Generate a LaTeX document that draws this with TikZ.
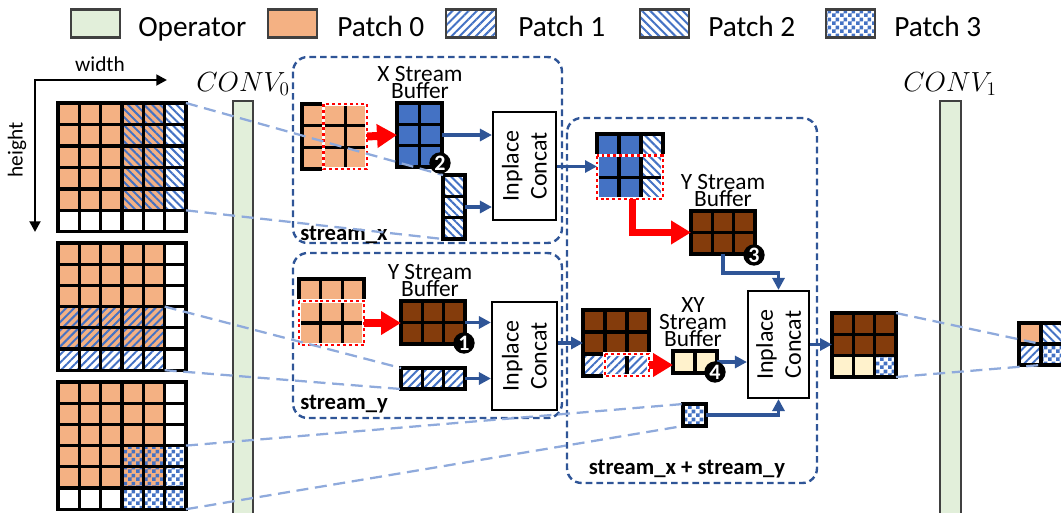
\documentclass[tikz,border=0pt]{standalone}
\usepackage{fontspec}
\setmainfont{Carlito}
\usetikzlibrary{arrows.meta,patterns,patterns.meta}
\definecolor{opg}{HTML}{E2EFDA}
\definecolor{org}{HTML}{F4B183}
\definecolor{hb}{HTML}{4472C4}
\definecolor{blu}{HTML}{4472C4}
\definecolor{brn}{HTML}{843C0C}
\definecolor{crm}{HTML}{FFF2CC}
\definecolor{dbox}{HTML}{2F5597}
\definecolor{lbl}{HTML}{8FAADC}
\definecolor{arb}{HTML}{2F5597}
\definecolor{lgb}{HTML}{404040}
\pgfdeclarepatternformonly{mychk}{\pgfqpoint{0pt}{0pt}}{\pgfqpoint{6pt}{6pt}}{\pgfqpoint{6pt}{6pt}}{%
  \pgfpathrectangle{\pgfqpoint{0pt}{0pt}}{\pgfqpoint{3pt}{3pt}}%
  \pgfpathrectangle{\pgfqpoint{3pt}{3pt}}{\pgfqpoint{3pt}{3pt}}%
  \pgfusepath{fill}}
\newcommand\cellgrid[2]{%
  \foreach \i in {0,...,#1} {\draw[gl] (\i,0) -- (\i,#2);}
  \foreach \j in {0,...,#2} {\draw[gl] (0,\j) -- (#1,\j);}}
\tikzset{
  gl/.style={draw=black,line width=2.5pt,line cap=rect},
  pA/.style={pattern={Lines[angle=45,distance=4.3pt,line width=1.5pt]},pattern color=hb},
  pB/.style={pattern={Lines[angle=-45,distance=4.3pt,line width=1.5pt]},pattern color=hb},
  pC/.style={pattern=mychk,pattern color=hb},
  reddot/.style={preaction={draw=white,line width=2.5pt},draw=red,line width=2.2pt,dash pattern=on 2.2pt off 2.2pt},
  redarr/.style={draw=red,line width=6pt,-{Triangle[length=15pt,width=17pt]}},
  redarr2/.style={draw=red,line width=5.5pt,line join=miter,-{Triangle[length=15pt,width=17pt]}},
  barr/.style={draw=arb,line width=2.4pt,-{Triangle[length=9pt,width=9pt]}},
  sbox/.style={draw=dbox,line width=1.8pt,dash pattern=on 5pt off 3pt,rounded corners=11pt},
  lbd/.style={draw=lbl,line width=1.7pt,dash pattern=on 9pt off 5pt},
  concat/.style={draw=black,line width=1.6pt,fill=white,inner sep=0pt},
  cctext/.style={rotate=90,align=center,inner sep=0pt,font=\fontsize{18}{21}\selectfont},
  bufl/.style={anchor=south,align=center,inner sep=0pt,font=\fontsize{17.5}{12.9}\selectfont},
  stl/.style={inner sep=0pt,font=\bfseries\fontsize{17}{20}\selectfont},
  lgbox/.style={draw=lgb,line width=1.8pt},
  lgt/.style={anchor=base west,inner sep=0pt,font=\fontsize{22}{24}\selectfont},
  badge/.style={circle,fill=black,text=white,inner sep=0pt,minimum size=16pt,font=\bfseries\fontsize{16.5}{16}\selectfont},
  opbar/.style={fill=opg,draw=lgb,line width=1.8pt},
  axis/.style={draw=black,line width=2.2pt,line join=miter},
  convl/.style={anchor=base,inner sep=0pt,font=\fontsize{20.5}{22}\selectfont},
}
\begin{document}
\setlength{\lineskiplimit}{-20pt}%
\begin{tikzpicture}[x=0.75pt,y=-0.75pt]
\useasboundingbox (0,0) rectangle (1061,512);
% ---------- legend
\path[lgbox,fill=opg] (71,9.5) rectangle (120,37.5);
\node[lgt] (lg0) at (138,36) {Operator};
\path[lgbox,fill=org] (268,9.5) rectangle (317,37.5);
\node[lgt] (lg1) at (337,36) {Patch 0};
\path[pA] (446,9.5) rectangle (496,37.5);
\path[lgbox] (446,9.5) rectangle (496,37.5);
\node[lgt] (lg2) at (518,36) {Patch 1};
\path[pB] (640,9.5) rectangle (689,37.5);
\path[lgbox] (640,9.5) rectangle (689,37.5);
\node[lgt] (lg3) at (708,36) {Patch 2};
\path[pC] (826,9.5) rectangle (875,37.5);
\path[lgbox] (826,9.5) rectangle (875,37.5);
\node[lgt] (lg4) at (894,36) {Patch 3};
% ---------- axes
\coordinate (ax0) at (35,80);
\coordinate (axw) at (167,80);
\coordinate (axh) at (35,232);
\draw[axis,{Triangle[length=8pt,width=8pt]}-{Triangle[length=8pt,width=8pt]}] (axw) -- (ax0) -- (axh);
\node[anchor=base,inner sep=0pt,font=\fontsize{16}{18}\selectfont] (wl) at (100,71) {width};
\node[rotate=90,inner sep=0pt,font=\fontsize{16}{18}\selectfont] (hl) at (17,150) {height};
% ---------- operator bars
\path[opbar] (233,101) rectangle (253,516);
\node[convl] (c0l) at (243,91) {$CONV_0$};
\path[opbar] (940,101) rectangle (961,516);
\node[convl] (c1l) at (950,91) {$CONV_1$};
% ---------- stream boxes
\draw[sbox] (293,57) rectangle (562,243);
\draw[sbox] (293,253) rectangle (562,418);
\draw[sbox] (567,118) rectangle (817,483);
% ---------- left grids
\begin{scope}[shift={(58,103)},x=16pt,y=-16.1pt]
  \fill[org] (0,0) rectangle (5,5);
  \path[pB] (3,0) rectangle (6,5);
  \cellgrid{6}{6}
  \coordinate (g1a) at (6,0);
  \coordinate (g1b) at (6,5);
\end{scope}
\begin{scope}[shift={(58,243)},x=16pt,y=-15.9pt]
  \fill[org] (0,0) rectangle (5,5);
  \path[pA] (0,3) rectangle (5,6);
  \cellgrid{6}{6}
  \coordinate (g2a) at (5,3);
  \coordinate (g2b) at (5,6);
\end{scope}
\begin{scope}[shift={(58,382)},x=16pt,y=-15.9pt]
  \fill[org] (0,0) rectangle (5,5);
  \path[pC] (3,3) rectangle (6,6);
  \cellgrid{6}{6}
  \coordinate (g3a) at (6,3);
  \coordinate (g3b) at (6,6);
\end{scope}
% ---------- stream_x
\begin{scope}[shift={(302,104)},x=16.25pt,y=-16.25pt]
  \fill[org] (0,0) rectangle (3,3);
  \cellgrid{3}{3}
  \draw[reddot] (1,0) rectangle (3,3);
  \coordinate (sxo) at (3,1.5);
\end{scope}
\begin{scope}[shift={(397,103)},x=16.875pt,y=-16pt]
  \fill[blu] (0,0) rectangle (2,3);
  \cellgrid{2}{3}
  \coordinate (xbl) at (0,1.5);
  \coordinate (xbr) at (2,1.5);
\end{scope}
\begin{scope}[shift={(443,175)},x=16.5pt,y=-16pt]
  \path[pB] (0,0) rectangle (1,3);
  \cellgrid{1}{3}
  \coordinate (p2t) at (0,0);
  \coordinate (p2b) at (0,3);
  \coordinate (p2r) at (1,1.5);
\end{scope}
\node[bufl] (xs) at (420,99) {X Stream\\Buffer};
\node[concat,minimum width=47.25pt,minimum height=81pt] (cx) at (524.5,166) {};
\node[cctext] (cxt) at (cx.center) {Inplace\\Concat};
\draw[redarr] (sxo) -- (xbl);
\draw[barr] (xbr) -- (xbr -| cx.west);
\draw[barr] (p2r) -- (p2r -| cx.west);
\node[stl,anchor=base west] (sxl) at (300,240) {stream\_x};
% ---------- stream_y
\begin{scope}[shift={(299,279)},x=16.25pt,y=-16.5pt]
  \fill[org] (0,0) rectangle (3,3);
  \cellgrid{3}{3}
  \draw[reddot] (0,1) rectangle (3,3);
  \coordinate (syo) at (3,2);
\end{scope}
\begin{scope}[shift={(401,301)},x=16pt,y=-16.1pt]
  \fill[brn] (0,0) rectangle (3,2);
  \cellgrid{3}{2}
  \coordinate (ybl) at (0,1);
  \coordinate (ybr) at (3,1);
\end{scope}
\begin{scope}[shift={(401,368)},x=16pt,y=-15.75pt]
  \path[pA] (0,0) rectangle (3,1);
  \cellgrid{3}{1}
  \coordinate (p1t) at (0,0);
  \coordinate (p1b) at (0,1);
  \coordinate (p1r) at (3,0.5);
\end{scope}
\node[bufl] (ys) at (430,297) {Y Stream\\Buffer};
\node[concat,minimum width=48.75pt,minimum height=81pt] (cy) at (524.5,356) {};
\node[cctext] (cyt) at (cy.center) {Inplace\\Concat};
\draw[redarr] (syo) -- (syo -| ybl);
\draw[barr] (ybr) -- (ybr -| cy.west);
\draw[barr] (p1r) -- (p1r -| cy.west);
\node[stl,anchor=base west] (syl) at (300,409) {stream\_y};
% ---------- stream_x + stream_y
\begin{scope}[shift={(597,134)},x=16.5pt,y=-16.25pt]
  \fill[blu] (0,0) rectangle (2,3);
  \path[pB] (2,0) rectangle (3,3);
  \cellgrid{3}{3}
  \draw[reddot] (0,1) rectangle (3,3);
  \coordinate (bgl) at (0,1.5);
  \coordinate (bgb) at (1.6,3);
\end{scope}
\begin{scope}[shift={(691,211)},x=16pt,y=-16.1pt]
  \fill[brn] (0,0) rectangle (3,2);
  \cellgrid{3}{2}
  \coordinate (yb2l) at (0,1);
  \coordinate (yb2b) at (1.5,2);
\end{scope}
\node[bufl] (ys2) at (723,207) {Y Stream\\Buffer};
\begin{scope}[shift={(583,310)},x=16.5pt,y=-16.5pt]
  \fill[brn] (0,0) rectangle (3,2);
  \path[pA] (0,2) rectangle (3,3);
  \cellgrid{3}{3}
  \draw[reddot] (1,2) rectangle (3,3);
  \coordinate (bpl) at (0,1.5);
  \coordinate (bpr) at (3,2.5);
\end{scope}
\begin{scope}[shift={(673,351)},x=16.5pt,y=-16.5pt]
  \fill[crm] (0,0) rectangle (2,1);
  \cellgrid{2}{1}
  \coordinate (cbl) at (0,0.5);
  \coordinate (cbr) at (2,0.5);
\end{scope}
\node[bufl] (xyb) at (693,347) {XY\\Stream\\Buffer};
\begin{scope}[shift={(683,404)},x=17.25pt,y=-16.5pt]
  \path[pC] (0,0) rectangle (1,1);
  \cellgrid{1}{1}
  \coordinate (ckt) at (0,0);
  \coordinate (ckb) at (0,1);
  \coordinate (ckr) at (1,0.5);
\end{scope}
\node[concat,minimum width=45.75pt,minimum height=80.25pt] (cxy) at (778.5,344.5) {};
\node[cctext] (cxyt) at (cxy.center) {Inplace\\Concat};
\draw[barr] (cx.east |- bgl) -- (bgl);
\draw[barr] (cy.east |- bpl) -- (bpl);
\draw[redarr2] (bgb) |- (yb2l);
\draw[barr] (yb2b) -- ++(0,19) -| (cxy.north);
\draw[redarr] (bpr) -- (bpr -| cbl);
\draw[barr] (cbr) -- (cbr -| cxy.west);
\draw[barr] (ckr) -| (cxy.south);
\node[stl,anchor=base] (sxyl) at (687,474) {stream\_x + stream\_y};
% ---------- output
\begin{scope}[shift={(832,313)},x=16pt,y=-16pt]
  \fill[brn] (0,0) rectangle (3,2);
  \fill[crm] (0,2) rectangle (2,3);
  \path[pC] (2,2) rectangle (3,3);
  \cellgrid{3}{3}
  \coordinate (ogl) at (0,1.5);
  \coordinate (oga) at (3,0);
  \coordinate (ogb) at (3,3);
\end{scope}
\draw[barr] (cxy.east) -- (cxy.east -| ogl);
\begin{scope}[shift={(1019,323)},x=16.5pt,y=-15.75pt]
  \fill[org] (0,0) rectangle (1,1);
  \path[pB] (1,0) rectangle (2,1);
  \path[pA] (0,1) rectangle (1,2);
  \path[pC] (1,1) rectangle (2,2);
  \cellgrid{2}{2}
  \coordinate (fgc) at (1,1);
  \coordinate (fgb) at (1,2);
\end{scope}
% ---------- dashed receptive-field lines
\draw[lbd] (g1a) -- (p2t);
\draw[lbd] (g1b) -- (p2b);
\draw[lbd] (g2a) -- (p1t);
\draw[lbd] (g2b) -- (p1b);
\draw[lbd] (g3a) -- (ckt);
\draw[lbd] (g3b) -- (ckb);
\draw[lbd] (oga) -- (fgc);
\draw[lbd] (ogb) -- (fgb);
% ---------- badges
\node[badge] (b2) at (440,163) {2};
\node[badge] (b1) at (464,343) {1};
\node[badge] (b3) at (754,255) {3};
\node[badge] (b4) at (715,372) {4};
\end{tikzpicture}
\end{document}
